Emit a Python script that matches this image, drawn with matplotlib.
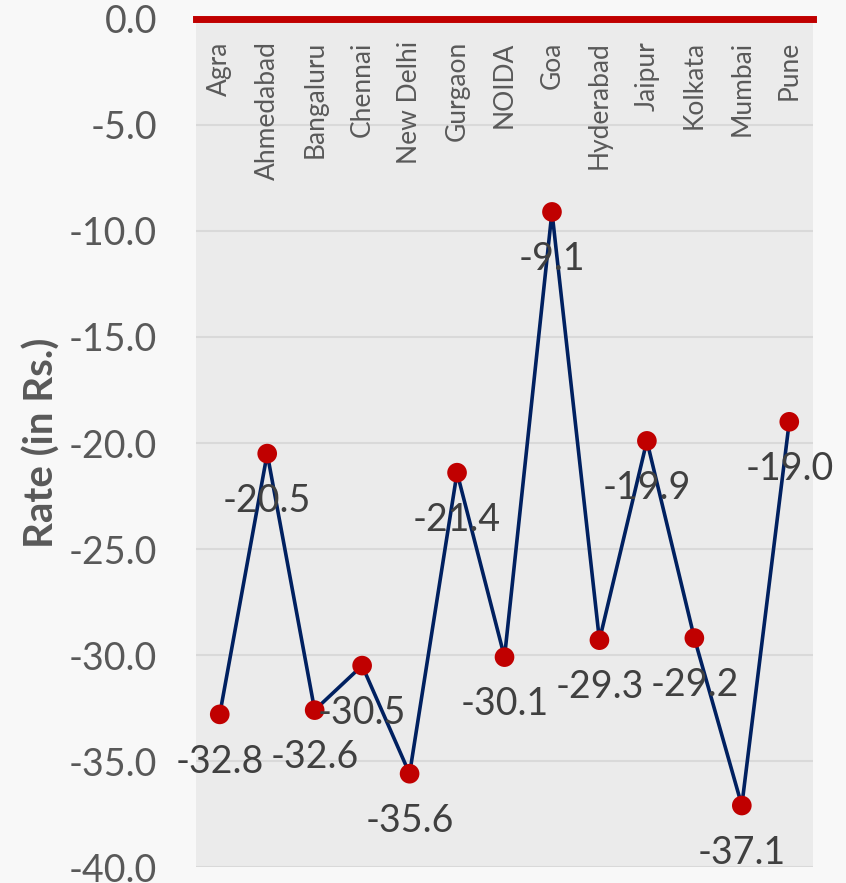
import matplotlib.pyplot as plt

cities = ["Agra", "Ahmedabad", "Bangaluru", "Chennai", "New Delhi", "Gurgaon", "NOIDA",
          "Goa", "Hyderabad", "Jaipur", "Kolkata", "Mumbai", "Pune"]
rates = [-32.8, -20.5, -32.6, -30.5, -35.6, -21.4, -30.1, -9.1, -29.3, -19.9, -29.2, -37.1, -19.0]
yticks = [0, -5, -10, -15, -20, -25, -30, -35, -40]

plt.rcParams['font.family'] = ['Lato', 'DejaVu Sans']

fig = plt.figure(figsize=(8.46, 8.83), dpi=100, facecolor='#f8f8f8')
ax = fig.add_axes([0.2317, 0.0181, 0.7293, 0.9604])
ax.set_facecolor('#ebebeb')

x = list(range(len(cities)))
ax.plot(x, rates, color='#002060', lw=2.6, zorder=3)
ax.scatter(x, rates, s=200, color='#c00000', zorder=4, edgecolors='none')

for i, v in enumerate(rates):
    ax.annotate(f"{v:.1f}", (i, v), xytext=(0, -34), textcoords='offset points',
                ha='center', va='center', fontsize=27, color='#404040', zorder=5)

# category names sit inside the plot, under the zero line
for i, c in enumerate(cities):
    ax.text(i, -1.05, c, rotation=90, ha='center', va='top', fontsize=19, color='#595959')

ax.set_xlim(-0.5, len(cities) - 0.5)
ax.set_ylim(-40, 0)
ax.set_yticks(yticks)
ax.set_yticklabels([f"{t:.1f}" for t in yticks], fontsize=27, color='#595959')
ax.set_xticks([])
ax.tick_params(axis='y', length=0, pad=28)
ax.yaxis.grid(True, color='#d9d9d9', lw=1.5)
ax.set_axisbelow(True)

for s in ['left', 'right', 'bottom']:
    ax.spines[s].set_visible(False)
ax.spines['top'].set_color('#c00000')
ax.spines['top'].set_linewidth(5)

ax.set_ylabel("Rate (in Rs.)", fontsize=29, fontweight='bold', color='#595959', labelpad=6)

fig.savefig("out.png", dpi=100, facecolor=fig.get_facecolor())
